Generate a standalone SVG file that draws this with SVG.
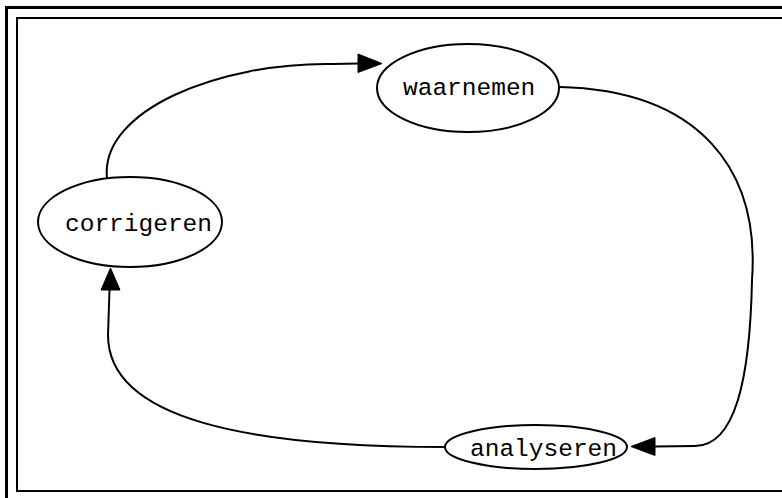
<svg xmlns="http://www.w3.org/2000/svg" width="782" height="498" viewBox="0 0 782 498">
<style>
.node ellipse{fill:#fff;stroke:#000;stroke-width:2}
.node text{font-family:"Liberation Mono","DejaVu Sans Mono",monospace;font-size:24.5px;fill:#000}
.edge path{fill:none;stroke:#000;stroke-width:2}
.edge polygon{fill:#000;stroke:#000;stroke-width:1}
</style>
<rect x="0" y="0" width="782" height="498" fill="#fff"/>
<g id="frame">
<rect x="6.5" y="7.5" width="800" height="520" fill="none" stroke="#000" stroke-width="3"/>
<rect x="17" y="18" width="800" height="473" fill="none" stroke="#000" stroke-width="2"/>
</g>
<g id="connectors" class="edge">
<path d="M107,178 C100,110 220,62 333,64 L358,63.5"/>
<polygon points="358,54 382,63.5 358,72.5"/>
<path d="M559,87 C700,90 760,170 752,280 C750,380 735,446 695,446 L655,446.5"/>
<polygon points="655,437.5 631,446.5 655,455.5"/>
<path d="M445,447 C250,447 108,420 108,335 L109.5,290"/>
<polygon points="101,290 110.5,268 120,290"/>
</g>
<g id="waarnemen" class="node">
<ellipse cx="468" cy="88" rx="91" ry="44"/>
<text x="403" y="95">waarnemen</text>
</g>
<g id="corrigeren" class="node">
<ellipse cx="130" cy="222" rx="92" ry="45"/>
<text x="65" y="231">corrigeren</text>
</g>
<g id="analyseren" class="node">
<ellipse cx="536" cy="447" rx="91" ry="22"/>
<text x="470" y="456">analyseren</text>
</g>
</svg>
